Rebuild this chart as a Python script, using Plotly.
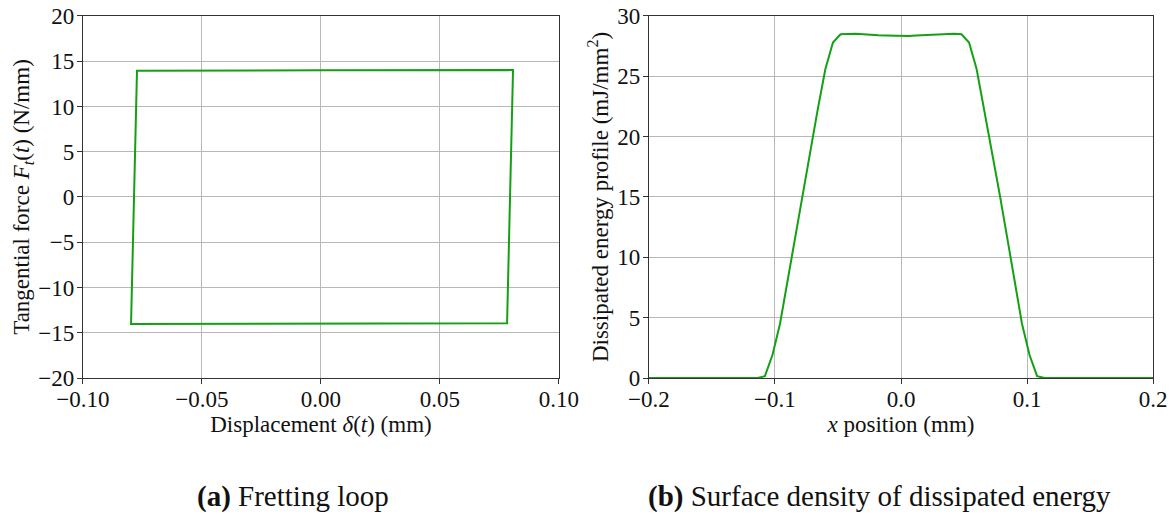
import plotly.graph_objects as go

# Fretting loop (displacement mm, tangential force N/mm)
loop_disp = [0.0013, 0.0807, 0.0782, -0.0798, -0.0773, 0.0013]
loop_force = [14.0, 14.02, -13.95, -14.02, 13.95, 14.0]

# Dissipated energy profile
x_pos = [-0.2, -0.15, -0.114, -0.108, -0.102, -0.096, -0.090, -0.084, -0.078, -0.072,
         -0.066, -0.060, -0.054, -0.048, -0.042, -0.036, -0.030, -0.024, -0.018, -0.012,
         -0.006, 0.0, 0.006, 0.012, 0.018, 0.024, 0.030, 0.036, 0.042, 0.048, 0.054,
         0.060, 0.066, 0.072, 0.078, 0.084, 0.090, 0.096, 0.102, 0.108, 0.114, 0.15, 0.2]
energy = [0.0, 0.0, 0.0, 0.15, 1.9, 4.5, 8.1, 11.8, 15.4, 18.8,
          22.3, 25.6, 27.8, 28.48, 28.52, 28.52, 28.48, 28.42, 28.4, 28.38,
          28.35, 28.32, 28.35, 28.38, 28.4, 28.43, 28.48, 28.52, 28.52, 28.48, 27.8,
          25.6, 22.3, 18.8, 15.4, 11.8, 8.1, 4.5, 1.9, 0.15, 0.0, 0.0, 0.0]

left_xticks = [-0.10, -0.05, 0.0, 0.05, 0.10]
left_yticks = [-20, -15, -10, -5, 0, 5, 10, 15, 20]
right_xticks = [-0.2, -0.1, 0.0, 0.1, 0.2]
right_yticks = [0, 5, 10, 15, 20, 25, 30]

GREEN = "#14a014"
FONT = "Liberation Serif"
TICK_SIZE = 23
TITLE_SIZE = 23
CAP_SIZE = 29

fig = go.Figure()
fig.add_trace(go.Scatter(x=loop_disp, y=loop_force, mode="lines",
                         line=dict(color=GREEN, width=2), xaxis="x", yaxis="y",
                         showlegend=False))
fig.add_trace(go.Scatter(x=x_pos, y=energy, mode="lines",
                         line=dict(color=GREEN, width=2), xaxis="x2", yaxis="y2",
                         showlegend=False))

axis_common = dict(showline=True, linecolor="#333333", linewidth=1.3, mirror=True,
                   ticks="outside", ticklen=5, tickcolor="#333333", automargin=False,
                   ticklabeloverflow="allow",
                   showgrid=True, gridcolor="#b8b8b8", gridwidth=1, zeroline=False,
                   tickfont=dict(family=FONT, size=TICK_SIZE, color="#111111"))

Y_DOMAIN = [0.2857, 0.9846]

fig.update_layout(
    width=1175, height=518,
    margin=dict(l=0, r=0, t=0, b=0),
    paper_bgcolor="white", plot_bgcolor="white",
    font=dict(family=FONT, size=TITLE_SIZE, color="#111111"),
    xaxis=dict(domain=[0.0638, 0.4689], range=[-0.10, 0.10], tickvals=left_xticks,
               tickformat=".2f", anchor="y", ticklabelstandoff=-5,
               title=dict(text="Displacement <i>δ</i>(<i>t</i>) (mm)", standoff=0,
                          font=dict(family=FONT, size=TITLE_SIZE)), **axis_common),
    yaxis=dict(domain=Y_DOMAIN, range=[-20, 20], tickvals=left_yticks,
               anchor="x", ticklabelstandoff=-2,
               title=dict(text="Tangential force <i>F<sub>t</sub></i>(<i>t</i>) (N/mm)",
                          standoff=2, font=dict(family=FONT, size=TITLE_SIZE)), **axis_common),
    xaxis2=dict(domain=[0.5455, 0.9745], range=[-0.2, 0.2], tickvals=right_xticks,
                tickformat=".1f", anchor="y2", ticklabelstandoff=-5,
                title=dict(text="<i>x</i> position (mm)", standoff=0,
                           font=dict(family=FONT, size=TITLE_SIZE)), **axis_common),
    yaxis2=dict(domain=Y_DOMAIN, range=[0, 30], tickvals=right_yticks,
                anchor="x2", ticklabelstandoff=-2,
                title=dict(text="Dissipated energy profile (mJ/mm<sup>2</sup>)",
                           standoff=2, font=dict(family=FONT, size=TITLE_SIZE)), **axis_common),
    annotations=[
        dict(text="<b>(a)</b> Fretting loop", x=0.2426, y=0.056, xref="paper", yref="paper",
             xanchor="center", yanchor="middle", showarrow=False,
             font=dict(family=FONT, size=CAP_SIZE, color="#111111")),
        dict(text="<b>(b)</b> Surface density of dissipated energy", x=0.742, y=0.056,
             xref="paper", yref="paper", xanchor="center", yanchor="middle",
             showarrow=False, font=dict(family=FONT, size=CAP_SIZE, color="#111111")),
    ],
)

fig.write_html("out.html")
